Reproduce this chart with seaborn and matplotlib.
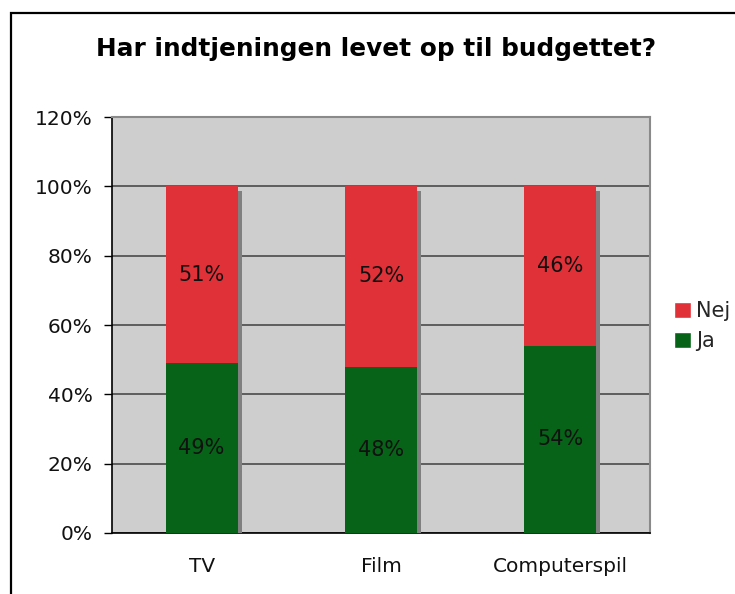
import numpy as np
import pandas as pd
import matplotlib.pyplot as plt
import matplotlib.patheffects as pe
from matplotlib.patches import Rectangle, Patch
import seaborn as sns

# chart data
categories = ["TV", "Film", "Computerspil"]
ja = [49, 48, 54]
nej = [51, 52, 46]

RED = "#E03038"
GREEN = "#066317"
BG = "#CECECE"

sns.set_theme(style="white")
plt.rcParams["font.family"] = ["DejaVu Sans"]

df = pd.DataFrame({"Kategori": categories, "Ja": ja, "Nej": nej})
df["Total"] = df["Ja"] + df["Nej"]

fig = plt.figure(figsize=(7.35, 5.94), dpi=100)
ax = fig.add_axes([0.1524, 0.1027, 0.732, 0.7003])
ax.set_facecolor(BG)

shadow = [pe.SimplePatchShadow(offset=(3, -3), shadow_rgbFace="#808080", alpha=1.0), pe.Normal()]

# stacked bars: full height in red, Ja on top in green
sns.barplot(data=df, x="Kategori", y="Total", color=RED, width=0.4, saturation=1, ax=ax, zorder=3)
sns.barplot(data=df, x="Kategori", y="Ja", color=GREEN, width=0.4, saturation=1, ax=ax, zorder=4)
for p in ax.patches:
    p.set_path_effects(shadow)
    p.set_edgecolor("none")

# segment labels
for i, (j, n) in enumerate(zip(ja, nej)):
    ax.text(i, j / 2, f"{j}%", ha="center", va="center", fontsize=15, color="#111111", zorder=5)
    ax.text(i, j + n / 2, f"{n}%", ha="center", va="center", fontsize=15, color="#111111", zorder=5)

ax.set_ylim(0, 120)
ax.set_xlim(-0.5, len(categories) - 0.5)
ax.set_yticks(np.arange(0, 121, 20))
ax.set_yticklabels([f"{v}%" for v in range(0, 121, 20)], fontsize=14.5)
ax.yaxis.grid(True, color="#4a4a4a", lw=1.2, zorder=1)
ax.set_axisbelow(True)

ax.set_xticks(range(len(categories)))
ax.set_xticklabels(categories, fontsize=14.5)
ax.set_xticks(np.arange(-0.5, len(categories), 1), minor=True)
ax.tick_params(axis="x", which="major", length=0, pad=17, labelcolor="#111111")
ax.tick_params(axis="x", which="minor", length=6, width=1, direction="out", color="black")
ax.tick_params(axis="y", length=6, width=1, direction="out", color="black", left=True, pad=8,
               labelcolor="#111111")
ax.set_xlabel("")
ax.set_ylabel("")

for s in ["left", "bottom"]:
    ax.spines[s].set_color("black")
    ax.spines[s].set_linewidth(1.2)
for s in ["top", "right"]:
    ax.spines[s].set_color("#8a8a8a")
    ax.spines[s].set_linewidth(1.5)

fig.text(0.511, 0.918, "Har indtjeningen levet op til budgettet?", ha="center", va="center",
         fontsize=17.8, fontweight="bold", color="black")

handles = [Patch(facecolor=RED, label="Nej"), Patch(facecolor=GREEN, label="Ja")]
fig.legend(handles=handles, loc="center left", bbox_to_anchor=(0.917, 0.451), frameon=False,
           fontsize=15, handlelength=0.8, handleheight=0.8, handletextpad=0.25, labelspacing=0.45,
           borderaxespad=0, borderpad=0)

# outer chart frame (cut off at right and bottom)
fig.patches.append(Rectangle((0.015, -0.1), 1.2, 1.078, transform=fig.transFigure,
                             fill=False, edgecolor="black", lw=1.6))

fig.savefig("out.png", dpi=100, facecolor="white")
